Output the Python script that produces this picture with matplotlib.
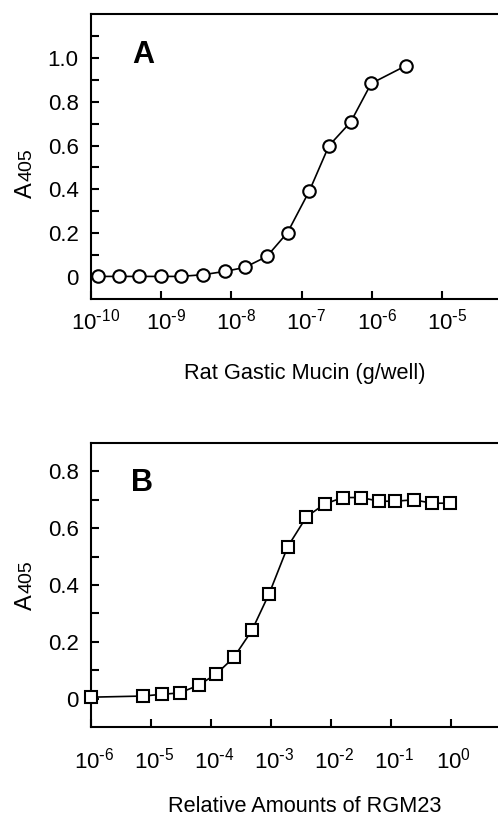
import matplotlib
matplotlib.use("Agg")
import matplotlib.pyplot as plt
import matplotlib.transforms as mtransforms
from matplotlib.ticker import NullLocator, FixedLocator, FuncFormatter
import numpy as np

plt.rcParams['font.family'] = ['Liberation Sans', 'DejaVu Sans']
plt.rcParams['mathtext.default'] = 'regular'
plt.rcParams['axes.unicode_minus'] = False

# ── data: panel A (rat gastric mucin) ──────────────
mucin_g = [1.26e-10, 2.5e-10, 4.9e-10, 1.0e-9, 1.9e-9, 4.0e-9, 8.1e-9,
           1.55e-8, 3.2e-8, 6.3e-8, 1.29e-7, 2.45e-7, 5.0e-7, 9.8e-7, 3.1e-6]
a405_A = [0.003, 0.003, 0.003, 0.003, 0.003, 0.011, 0.026, 0.044,
          0.094, 0.203, 0.393, 0.599, 0.707, 0.883, 0.965]

# ── data: panel B (RGM23) ──────────────────────────
rgm23 = [1.0e-6, 7.4e-6, 1.5e-5, 3.0e-5, 6.2e-5, 1.23e-4, 2.4e-4, 4.8e-4,
         9.3e-4, 1.9e-3, 3.9e-3, 7.8e-3, 1.58e-2, 3.16e-2, 6.3e-2,
         0.117, 0.24, 0.48, 0.98]
a405_B = [0.005, 0.009, 0.015, 0.02, 0.047, 0.087, 0.145, 0.24, 0.369,
          0.535, 0.64, 0.685, 0.708, 0.708, 0.695, 0.695, 0.70, 0.688, 0.688]

xticks_A = [1e-10, 1e-9, 1e-8, 1e-7, 1e-6, 1e-5]
xticks_B = [1e-6, 1e-5, 1e-4, 1e-3, 1e-2, 1e-1, 1e0]
yticks_A = [0, 0.2, 0.4, 0.6, 0.8, 1.0]
ylabels_A = ["0", "0.2", "0.4", "0.6", "0.8", "1.0"]
yminor_A = [0.1, 0.3, 0.5, 0.7, 0.9, 1.1]
yticks_B = [0, 0.2, 0.4, 0.6, 0.8]
ylabels_B = ["0", "0.2", "0.4", "0.6", "0.8"]
yminor_B = [0.1, 0.3, 0.5, 0.7]

W, H = 498, 815
fig = plt.figure(figsize=(W / 100, H / 100), dpi=100)


def px_box(left, top, right, bottom):
    return [left / W, 1 - bottom / H, (right - left) / W, (bottom - top) / H]


def pow10(v, pos):
    e = int(round(np.log10(v)))
    if e < 0:
        return r'$10^{\text{-}%d}$' % (-e)
    return r'$10^{%d}$' % e


def style(ax, xpad):
    for s in ax.spines.values():
        s.set_linewidth(1.5)
    ax.spines['right'].set_visible(False)
    ax.tick_params(which='both', direction='in', length=6, width=1.5,
                   labelsize=16)
    ax.tick_params(axis='y', which='both', pad=9, right=False)
    ax.tick_params(axis='x', pad=xpad, top=False)
    ax.xaxis.set_minor_locator(NullLocator())
    ax.xaxis.set_major_formatter(FuncFormatter(pow10))


def shift_xlabels(ax, dx):
    off = mtransforms.ScaledTranslation(dx / 100, 0, fig.dpi_scale_trans)
    for lab in ax.get_xticklabels():
        lab.set_transform(lab.get_transform() + off)


# ── panel A ──
axA = fig.add_axes(px_box(91, 14, 510, 299))
axA.plot(mucin_g, a405_A, color='black', lw=1.2, marker='o', ms=9,
         mfc='white', mec='black', mew=1.5, clip_on=False, zorder=5)
axA.set_xscale('log')
axA.set_xlim(1e-10, 10 ** (-10 + 419 / 70.2))
axA.set_ylim(-0.1, 1.2)
axA.xaxis.set_major_locator(FixedLocator(xticks_A))
axA.set_yticks(yticks_A)
axA.set_yticklabels(ylabels_A)
axA.set_yticks(yminor_A, minor=True)
style(axA, 7)
axA.text((143 - 91) / (510 - 91), 0.855, "A", transform=axA.transAxes,
         fontsize=22, fontweight='bold', ha='center', va='center')

# ── panel B ──
axB = fig.add_axes(px_box(91, 443, 510, 727))
axB.plot(rgm23, a405_B, color='black', lw=1.2, marker='s', ms=8.4,
         mfc='white', mec='black', mew=1.5, clip_on=False, zorder=5)
axB.set_xscale('log')
axB.set_xlim(1e-6, 10 ** (-6 + 419 / 60.0))
axB.set_ylim(-0.1, 0.9)
axB.xaxis.set_major_locator(FixedLocator(xticks_B))
axB.set_yticks(yticks_B)
axB.set_yticklabels(ylabels_B)
axB.set_yticks(yminor_B, minor=True)
style(axB, 15)
axB.text((142 - 91) / (510 - 91), 0.86, "B", transform=axB.transAxes,
         fontsize=22, fontweight='bold', ha='center', va='center')

fig.canvas.draw()
shift_xlabels(axA, 5)
shift_xlabels(axB, 3)

# y labels "A" + smaller "405" sharing a baseline
for base_y in (198, 610):
    fig.text(32 / W, 1 - base_y / H, "A", fontsize=17, rotation=90,
             rotation_mode='anchor', ha='left', va='baseline')
    fig.text(32 / W, 1 - (base_y - 17) / H, "405", fontsize=14, rotation=90,
             rotation_mode='anchor', ha='left', va='baseline')

# x labels
fig.text(305 / W, 1 - 374 / H, "Rat Gastic Mucin (g/well)", fontsize=15.7,
         ha='center', va='center')
fig.text(305 / W, 1 - 806 / H, "Relative Amounts of RGM23", fontsize=15.7,
         ha='center', va='center')

fig.savefig("out.png", dpi=100)
